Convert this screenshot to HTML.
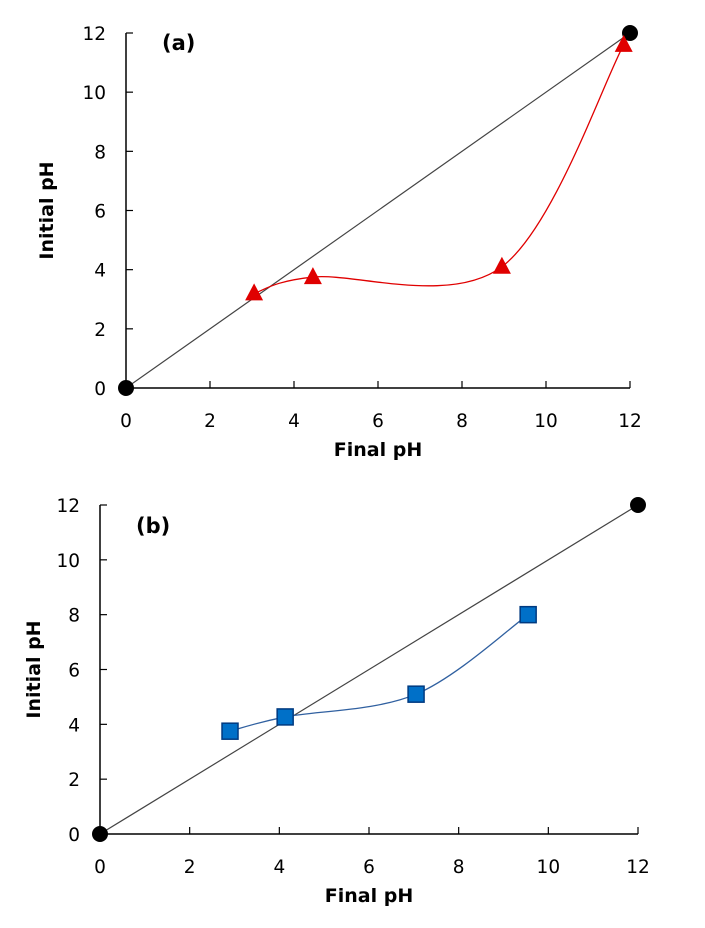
<!DOCTYPE html>
<html><head><meta charset="utf-8"><style>
html,body{margin:0;padding:0;background:#fff;}
svg text{font-family:"DejaVu Sans","Liberation Sans",sans-serif;fill:#000;}
</style></head><body>
<svg id="s" width="705" height="923" viewBox="0 0 705 923" xmlns="http://www.w3.org/2000/svg"></svg>
<script>
const ticks = [0, 2, 4, 6, 8, 10, 12];
const refX = [0, 12];
const refY = [0, 12];
const aX = [3.05, 4.45, 8.95, 11.85];
const aY = [3.2, 3.75, 4.1, 11.6];
const bX = [2.9, 4.13, 7.05, 9.55];
const bY = [3.75, 4.27, 5.1, 8.0];

const NS = 'http://www.w3.org/2000/svg';
const svg = document.getElementById('s');
function mk(tag, attrs, parent) {
  const e = document.createElementNS(NS, tag);
  for (const k in attrs) e.setAttribute(k, attrs[k]);
  (parent || svg).appendChild(e);
  return e;
}
function spline(pts) {
  let d = 'M' + pts[0][0] + ',' + pts[0][1];
  for (let i = 0; i < pts.length - 1; i++) {
    const p0 = pts[Math.max(0, i - 1)], p1 = pts[i], p2 = pts[i + 1], p3 = pts[Math.min(pts.length - 1, i + 2)];
    const t = 1 / 6;
    const c1 = [p1[0] + (p2[0] - p0[0]) * t, p1[1] + (p2[1] - p0[1]) * t];
    const c2 = [p2[0] - (p3[0] - p1[0]) * t, p2[1] - (p3[1] - p1[1]) * t];
    d += ' C' + c1 + ' ' + c2 + ' ' + p2;
  }
  return d;
}
function chart(cfg) {
  const g = mk('g', {});
  
  
  const sx = v => cfg.x0 + (cfg.x1 - cfg.x0) * v / 12;
  const sy = v => cfg.y0 + (cfg.y1 - cfg.y0) * v / 12;
  let e = mk('line', {x1: cfg.x0, y1: cfg.y0, x2: cfg.x1, y2: cfg.y0, stroke: '#000', 'stroke-width': 1.5}, g);
  
  
  e = mk('line', {x1: cfg.x0, y1: cfg.y0, x2: cfg.x0, y2: cfg.y1, stroke: '#000', 'stroke-width': 1.5}, g);
  
  
  ticks.forEach(t => {
    mk('line', {x1: sx(t), y1: cfg.y0, x2: sx(t), y2: cfg.y0 - 7, stroke: '#000', 'stroke-width': 1.2}, g);
    mk('line', {x1: cfg.x0, y1: sy(t), x2: cfg.x0 + 7, y2: sy(t), stroke: '#000', 'stroke-width': 1.2}, g);
    let tx = mk('text', {x: sx(t), y: cfg.y0 + 39, 'font-size': 18.5, 'text-anchor': 'middle'}, g);
    tx.textContent = t;
    
    
    tx = mk('text', {x: cfg.x0 - 20, y: sy(t) + 7, 'font-size': 18.5, 'text-anchor': 'end'}, g);
    tx.textContent = t;
    
    
  });
  let t = mk('text', {x: (cfg.x0 + cfg.x1) / 2, y: cfg.y0 + 68, 'font-size': 19, 'font-weight': 'bold', 'text-anchor': 'middle'}, g);
  t.textContent = 'Final pH';
  
  
  const cy = (cfg.y0 + cfg.y1) / 2;
  t = mk('text', {x: cfg.ytx, y: cy, 'font-size': 19, 'font-weight': 'bold', 'text-anchor': 'middle', transform: 'rotate(-90 ' + cfg.ytx + ' ' + cy + ')'}, g);
  t.textContent = 'Initial pH';
  
  
  t = mk('text', {x: cfg.lx, y: cfg.ly, 'font-size': 21, 'font-weight': 'bold', 'font-family': '"DejaVu Serif","Liberation Serif",serif'}, g);
  t.textContent = cfg.label;
  
  
  e = mk('line', {x1: sx(refX[0]), y1: sy(refY[0]), x2: sx(refX[1]), y2: sy(refY[1]), stroke: '#444', 'stroke-width': 1.2}, g);
  
  
  refX.forEach((v, i) => {
    const c = mk('circle', {cx: sx(v), cy: sy(refY[i]), r: 8, fill: '#000'}, g);
    
    
  });
  const pts = cfg.xs.map((v, i) => [sx(v), sy(cfg.ys[i])]);
  e = mk('path', {d: spline(pts), fill: 'none', stroke: cfg.line, 'stroke-width': 1.3}, g);
  
  
  pts.forEach(p => {
    let m;
    if (cfg.marker === 'tri') {
      m = mk('polygon', {points: [p[0], p[1] - 10, p[0] - 9, p[1] + 7, p[0] + 9, p[1] + 7].join(','), fill: '#e00000'}, g);
    } else {
      m = mk('rect', {x: p[0] - 8, y: p[1] - 8, width: 16, height: 16, fill: '#0070c8', stroke: '#003a80', 'stroke-width': 1.5}, g);
    }
    
    
  });
}
chart({name: 'chart-a', x0: 126, x1: 630, y0: 388, y1: 33, xs: aX, ys: aY, line: '#e00000', marker: 'tri', label: '(a)', lx: 162, ly: 50, ytx: 53});
chart({name: 'chart-b', x0: 100, x1: 638, y0: 834, y1: 505, xs: bX, ys: bY, line: '#3060a0', marker: 'sq', label: '(b)', lx: 136, ly: 533, ytx: 40});
</script>
</body></html>
